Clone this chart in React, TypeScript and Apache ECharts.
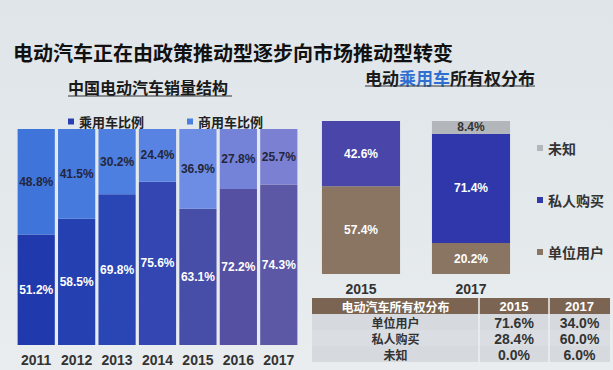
import React, { useEffect, useRef } from 'react';
import * as echarts from 'echarts';

const years = ['2011', '2012', '2013', '2014', '2015', '2016', '2017'];
const passengerShare = [51.2, 58.5, 69.8, 75.6, 63.1, 72.2, 74.3];
const commercialShare = [48.8, 41.5, 30.2, 24.4, 36.9, 27.8, 25.7];

const ownYears = ['2015', '2017'];
const unitUser = [57.4, 20.2];
const privateBuy = [42.6, 71.4];
const unknownOwner = [0, 8.4];

const tableHeader = ['电动汽车所有权分布', '2015', '2017'];
const tableRows = ['单位用户', '私人购买', '未知'];
const table2015 = ['71.6%', '28.4%', '0.0%'];
const table2017 = ['34.0%', '60.0%', '6.0%'];

const mainTitle = '电动汽车正在由政策推动型逐步向市场推动型转变';
const leftTitle = '中国电动汽车销量结构';

// photo lighting tints per bar (style only)
const darkTints = ['#2039ad', '#2540b0', '#2a45b4', '#3346b2', '#474ea8', '#5650a2', '#5c58a6'];
const lightTints = ['#3f74da', '#467adc', '#4c7fe0', '#5883e2', '#6d8de4', '#7482d8', '#7b80d2'];

const CJK = '"Noto Sans CJK SC", "Liberation Sans", sans-serif';
const NUM = '"Liberation Sans", "Noto Sans CJK SC", sans-serif';

export default function App() {
  const ref = useRef<HTMLDivElement>(null);
  useEffect(() => {
    if (!ref.current) return;
    const chart = echarts.init(ref.current, undefined, { renderer: 'svg' });

    const pctLabel = (color: string) => ({
      show: true,
      position: 'inside',
      color,
      fontSize: 12,
      fontWeight: 'bold',
      fontFamily: NUM,
      formatter: (p: any) => (p.value ? p.value.toFixed(1) + '%' : ''),
    });

    // table graphics
    const tX = [312, 479, 549, 610];
    const headerTop = 298;
    const rowH = 16;
    const tableEls: any[] = [];
    tableEls.push({
      type: 'rect',
      shape: { x: tX[0], y: headerTop, width: tX[3] - tX[0], height: rowH },
      style: { fill: '#7b6451' },
    });
    tableRows.forEach((_, i) => {
      tableEls.push({
        type: 'rect',
        shape: { x: tX[0], y: headerTop + rowH + i * rowH, width: tX[3] - tX[0], height: rowH },
        style: { fill: i % 2 === 0 ? '#d6dade' : '#dadee2' },
      });
    });
    [1, 2].forEach((c) => {
      tableEls.push({
        type: 'line',
        shape: { x1: tX[c], y1: headerTop, x2: tX[c], y2: headerTop + rowH * 4 },
        style: { stroke: '#eef0f2', lineWidth: 1.5 },
      });
    });
    const columns = [tableRows, table2015, table2017];
    columns.forEach((col, c) => {
      const fam = c === 0 ? CJK : NUM;
      const cells = [tableHeader[c], ...col];
      cells.forEach((t, r) => {
        tableEls.push({
          type: 'text',
          x: (tX[c] + tX[c + 1]) / 2,
          y: headerTop + rowH * r + rowH / 2 + 0.5,
          style: {
            text: t,
            fill: r === 0 ? '#ffffff' : '#333333',
            fontSize: c === 0 ? 12 : r === 0 ? 13 : 14,
            fontWeight: 'bold',
            fontFamily: fam,
            align: 'center',
            verticalAlign: 'middle',
          },
        });
      });
    });

    const option: any = {
      animation: false,
      backgroundColor: 'transparent',
      graphic: [
        {
          type: 'text', x: 13, y: 52,
          style: { text: mainTitle, fill: '#111111', fontSize: 20, fontWeight: 'bold', fontFamily: CJK, verticalAlign: 'middle' },
        },
        {
          type: 'text', x: 68, y: 87,
          style: { text: leftTitle, fill: '#1a1a1a', fontSize: 16, fontWeight: 'bold', fontFamily: CJK, verticalAlign: 'middle' },
        },
        { type: 'line', shape: { x1: 68, y1: 96, x2: 232, y2: 96 }, style: { stroke: '#333', lineWidth: 1 } },
        {
          type: 'text', x: 365, y: 77,
          style: {
            text: '{a|电动}{b|乘用车}{a|所有权分布}',
            verticalAlign: 'middle',
            rich: {
              a: { fill: '#1a1a1a', fontSize: 17, fontWeight: 'bold', fontFamily: CJK },
              b: { fill: '#2f6fd0', fontSize: 17, fontWeight: 'bold', fontFamily: CJK },
            },
          },
        },
        { type: 'line', shape: { x1: 365, y1: 86, x2: 535, y2: 86 }, style: { stroke: '#333', lineWidth: 1 } },
        ...tableEls,
      ],
      legend: [
        {
          left: 63, top: 110, itemWidth: 6, itemHeight: 6, itemGap: 43, icon: 'rect',
          textStyle: { fontSize: 13, fontWeight: 'bold', color: '#222', fontFamily: CJK },
          data: ['乘用车比例', '商用车比例'],
        },
        {
          left: 532, top: 136, orient: 'vertical', itemWidth: 6, itemHeight: 6, itemGap: 38, icon: 'rect',
          textStyle: { fontSize: 14, fontWeight: 'bold', color: '#333', fontFamily: CJK },
          data: ['未知', '私人购买', '单位用户'],
        },
      ],
      grid: [
        { left: 16, top: 129, width: 283, height: 216 },
        { left: 306, top: 121, width: 220, height: 153 },
      ],
      xAxis: [
        {
          type: 'category', gridIndex: 0, data: years,
          axisLine: { show: false }, axisTick: { show: false },
          axisLabel: { interval: 0, margin: 8, fontSize: 14, fontWeight: 'bold', color: '#333', fontFamily: NUM },
        },
        {
          type: 'category', gridIndex: 1, data: ownYears,
          axisLine: { show: false }, axisTick: { show: false },
          axisLabel: { interval: 0, margin: 8, fontSize: 14, fontWeight: 'bold', color: '#333', fontFamily: NUM },
        },
      ],
      yAxis: [
        { type: 'value', gridIndex: 0, min: 0, max: 100, show: false },
        { type: 'value', gridIndex: 1, min: 0, max: 100, show: false },
      ],
      series: [
        {
          name: '乘用车比例', type: 'bar', stack: 'a', xAxisIndex: 0, yAxisIndex: 0,
          barCategoryGap: '8%',
          itemStyle: { color: '#2a3fb0' },
          data: passengerShare.map((v, i) => ({ value: v, itemStyle: { color: darkTints[i] } })),
          label: pctLabel('#ffffff'),
        },
        {
          name: '商用车比例', type: 'bar', stack: 'a', xAxisIndex: 0, yAxisIndex: 0,
          barCategoryGap: '8%',
          itemStyle: { color: '#4a7fe0' },
          data: commercialShare.map((v, i) => ({ value: v, itemStyle: { color: lightTints[i] } })),
          label: pctLabel('#23263c'),
        },
        {
          name: '单位用户', type: 'bar', stack: 'b', xAxisIndex: 1, yAxisIndex: 1,
          barCategoryGap: '29%',
          itemStyle: { color: '#8a7462' },
          data: unitUser,
          label: pctLabel('#ffffff'),
        },
        {
          name: '私人购买', type: 'bar', stack: 'b', xAxisIndex: 1, yAxisIndex: 1,
          barCategoryGap: '29%',
          itemStyle: { color: '#3439a8' },
          data: privateBuy.map((v, i) => ({ value: v, itemStyle: { color: i === 0 ? '#4a45a8' : '#3037aa' } })),
          label: pctLabel('#ffffff'),
        },
        {
          name: '未知', type: 'bar', stack: 'b', xAxisIndex: 1, yAxisIndex: 1,
          barCategoryGap: '29%',
          itemStyle: { color: '#b3b6ba' },
          data: unknownOwner,
          label: pctLabel('#333333'),
        },
      ],
    };
    chart.setOption(option);
    return () => chart.dispose();
  }, []);

  return (
    <div
      style={{
        position: 'fixed', left: 0, top: 0, width: 613, height: 370,
        background: 'linear-gradient(180deg, #dfe5e9 0%, #e4e9ec 60%, #e9edef 100%)',
      }}
    >
      <div ref={ref} style={{ width: 613, height: 370 }} />
    </div>
  );
}
